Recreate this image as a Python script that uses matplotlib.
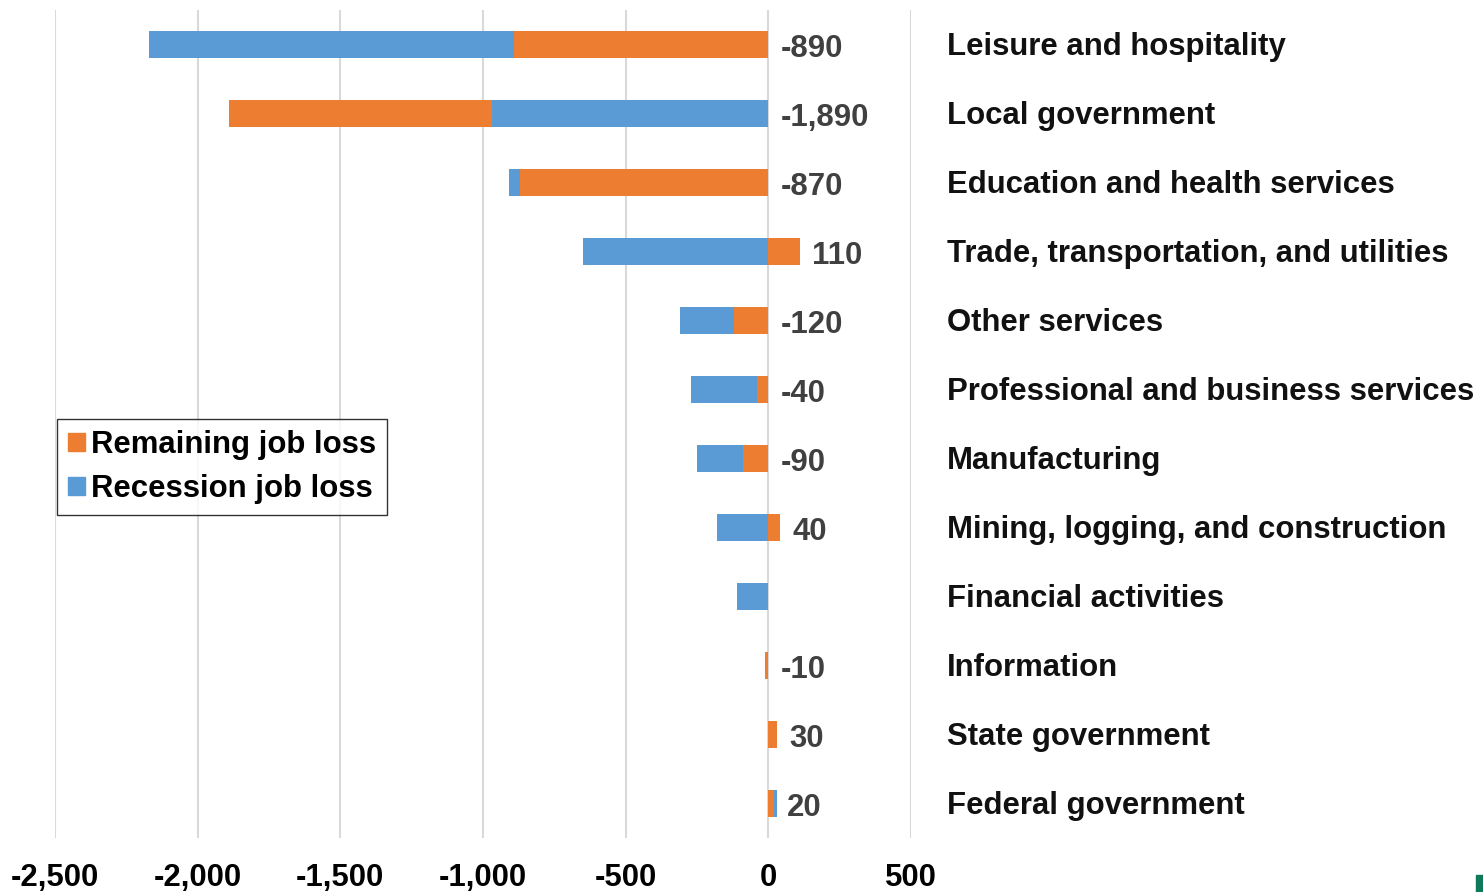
import matplotlib
matplotlib.use('Agg')
import matplotlib.pyplot as plt
from matplotlib.patches import Patch, Rectangle
from matplotlib import rcParams
rcParams['font.family'] = 'sans-serif'
rcParams['font.sans-serif'] = ['Liberation Sans', 'DejaVu Sans']
rcParams['font.weight'] = 'bold'

# job losses by industry, thousands
categories = ['Leisure and hospitality', 'Local government', 'Education and health services',
              'Trade, transportation, and utilities', 'Other services',
              'Professional and business services', 'Manufacturing',
              'Mining, logging, and construction', 'Financial activities', 'Information',
              'State government', 'Federal government']
recession = [-2170, -970, -910, -650, -310, -270, -250, -180, -110, 0, 0, 30]
remaining = [-890, -1890, -870, 110, -120, -40, -90, 40, 0, -10, 30, 20]
xticks = [-2500, -2000, -1500, -1000, -500, 0, 500]

orange = '#ED7D31'
blue = '#5B9BD5'
fs = 22.4

fig = plt.figure(figsize=(14.83, 8.92), dpi=100)
ax = fig.add_axes([55/1483, 1-838/892, (911-55)/1483, 828/892])

y = list(range(len(categories)))
h = 0.39
b_rec = ax.barh(y, recession, height=h, color=blue)
b_rem = ax.barh(y, remaining, height=h, color=orange)
# shorter bar of each pair sits in front
for i in y:
    if abs(remaining[i]) <= abs(recession[i]):
        b_rec[i].set_zorder(2); b_rem[i].set_zorder(3)
    else:
        b_rec[i].set_zorder(3); b_rem[i].set_zorder(2)

for i, v in enumerate(remaining):
    if v != 0:
        lab = format(v, ',')
        ax.annotate(lab, xy=(max(v, 0), i), xytext=(9, -3), textcoords='offset points',
                    ha='left', va='center', fontsize=fs, color='#404040', fontweight='bold')
    ax.annotate(categories[i], xy=(627, i), xytext=(0, -1.5), textcoords='offset points',
                ha='left', va='center', fontsize=fs, color='#111111', fontweight='bold',
                annotation_clip=False)

ax.set_xlim(-2500, 500)
ax.set_ylim(len(categories)-0.5, -0.5)
ax.set_xticks(xticks)
ax.set_xticklabels([format(t, ',') for t in xticks], fontsize=fs, fontweight='bold')
ax.tick_params(axis='x', length=0, pad=18)
ax.set_yticks([])
ax.grid(axis='x', color='#d9d9d9', linewidth=1.5, zorder=0)
ax.set_axisbelow(True)
for s in ax.spines.values():
    s.set_visible(False)

handles = [Patch(color=orange, label='Remaining job loss'), Patch(color=blue, label='Recession job loss')]
leg = ax.legend(handles=handles, loc='upper left', bbox_to_anchor=(57/1483, 1-419/892),
                bbox_transform=fig.transFigure, fontsize=fs, frameon=True, fancybox=False,
                handlelength=0.55, handleheight=0.55, handletextpad=0.2, borderpad=0.35,
                labelspacing=0.45, borderaxespad=0)
leg.get_frame().set_edgecolor('black')
leg.get_frame().set_linewidth(1.0)
for t in leg.get_texts():
    t.set_fontweight('bold')

# small green corner mark
fig.patches.append(Rectangle((1476/1483, 0), 7/1483, 17/892, transform=fig.transFigure,
                             color='#0e7a5a'))

plt.savefig('out.png', dpi=100)
